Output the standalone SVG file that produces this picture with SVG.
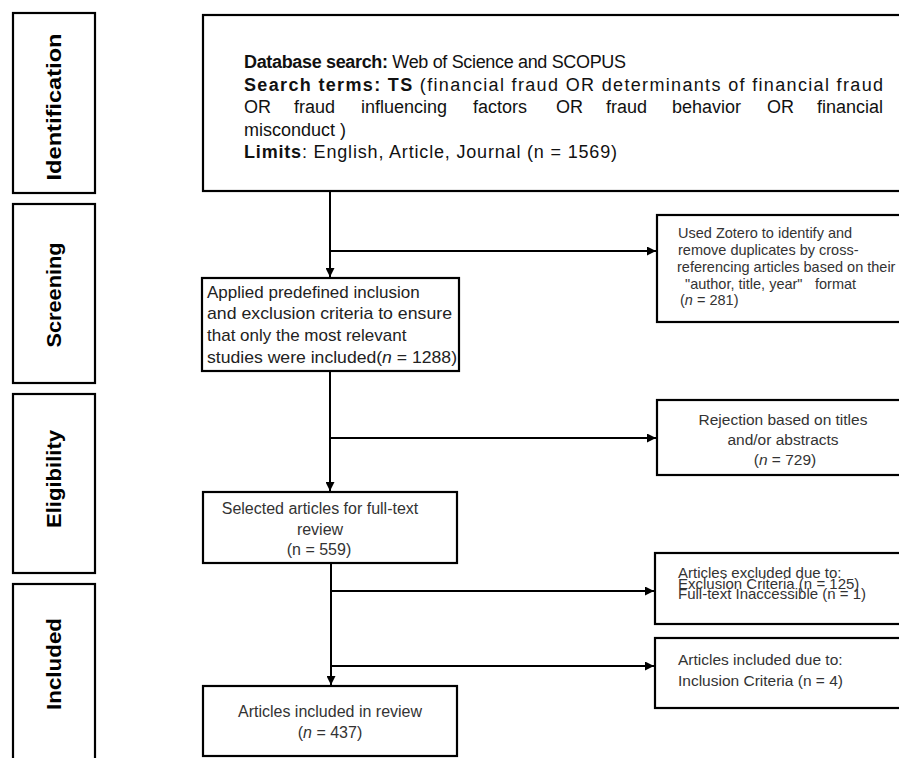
<svg xmlns="http://www.w3.org/2000/svg" width="899" height="758" viewBox="0 0 899 758">
<style>
.box{fill:#fff;stroke:#000;stroke-width:2.2}
.stage{font-family:"Liberation Sans",Arial,sans-serif;font-weight:bold;font-size:20px;fill:#000}
.main{font-family:"Liberation Sans",Arial,sans-serif;font-size:18px;fill:#111}
.t{font-family:"Liberation Sans",Arial,sans-serif;font-size:14px;fill:#333}
.b{font-weight:bold}
.ln{fill:none;stroke:#000;stroke-width:2}
</style>
<defs>
<marker id="ah" markerUnits="userSpaceOnUse" markerWidth="9" markerHeight="9" refX="9" refY="4.5" orient="auto">
<path d="M0,0 L9,4.5 L0,9 z" fill="#000"/>
</marker>
</defs>
<rect width="899" height="758" fill="#fff"/>

<g id="stage-identification">
<rect class="box" x="13" y="13" width="82" height="180"/>
<text class="stage" transform="translate(61,107) rotate(-90)" text-anchor="middle" textLength="147" lengthAdjust="spacingAndGlyphs">Identification</text>
</g>
<g id="stage-screening">
<rect class="box" x="13" y="204" width="82" height="179"/>
<text class="stage" transform="translate(61,295) rotate(-90)" text-anchor="middle" textLength="105" lengthAdjust="spacingAndGlyphs">Screening</text>
</g>
<g id="stage-eligibility">
<rect class="box" x="13" y="394" width="82" height="179"/>
<text class="stage" transform="translate(61,479) rotate(-90)" text-anchor="middle" textLength="98" lengthAdjust="spacingAndGlyphs">Eligibility</text>
</g>
<g id="stage-included">
<rect class="box" x="13" y="584" width="82" height="200"/>
<text class="stage" transform="translate(61,664) rotate(-90)" text-anchor="middle" textLength="92" lengthAdjust="spacingAndGlyphs">Included</text>
</g>

<g id="connectors">
<line class="ln" x1="330" y1="191" x2="330" y2="277" marker-end="url(#ah)"/>
<line class="ln" x1="330" y1="251" x2="656" y2="251" marker-end="url(#ah)"/>
<line class="ln" x1="330" y1="371" x2="330" y2="491" marker-end="url(#ah)"/>
<line class="ln" x1="330" y1="438" x2="656" y2="438" marker-end="url(#ah)"/>
<line class="ln" x1="331" y1="563" x2="331" y2="685" marker-end="url(#ah)"/>
<line class="ln" x1="331" y1="591" x2="654" y2="591" marker-end="url(#ah)"/>
<line class="ln" x1="331" y1="666" x2="654" y2="666" marker-end="url(#ah)"/>
</g>

<g id="node-search">
<rect class="box" x="203" y="15" width="720" height="176"/>
<text class="main" x="244" y="68" textLength="382" lengthAdjust="spacing"><tspan class="b">Database search:</tspan> Web of Science and SCOPUS</text>
<text class="main" x="244" y="91" textLength="639" lengthAdjust="spacing"><tspan class="b">Search terms: TS</tspan> (financial fraud OR determinants of financial fraud</text>
<text class="main" y="113"><tspan x="244">OR</tspan><tspan x="294">fraud</tspan><tspan x="361">influencing</tspan><tspan x="473">factors</tspan><tspan x="556">OR</tspan><tspan x="606">fraud</tspan><tspan x="672">behavior</tspan><tspan x="767">OR</tspan><tspan x="817">financial</tspan></text>
<text class="main" x="244" y="136">misconduct )</text>
<text class="main" x="244" y="158" textLength="373" lengthAdjust="spacing"><tspan class="b">Limits</tspan>: English, Article, Journal (n = 1569)</text>
</g>

<g id="node-zotero">
<rect class="box" x="657" y="215" width="260" height="107"/>
<text class="t" style="font-size:14.5px" x="678" y="238">Used Zotero to identify and</text>
<text class="t" style="font-size:14.5px" x="678" y="255">remove duplicates by cross-</text>
<text class="t" style="font-size:14.5px" x="677" y="272">referencing articles based on their</text>
<text class="t" style="font-size:14.5px" x="685" y="289">"author, title, year"</text>
<text class="t" style="font-size:14.5px" x="815" y="289">format</text>
<text class="t" style="font-size:14.5px" x="680" y="305">(<tspan font-style="italic">n</tspan> = 281)</text>
</g>

<g id="node-screening">
<rect class="box" x="202" y="278" width="257" height="93"/>
<text class="t" style="font-size:17px;fill:#222" x="207" y="298">Applied predefined inclusion</text>
<text class="t" style="font-size:17px;fill:#222" x="207" y="319" textLength="245" lengthAdjust="spacingAndGlyphs">and exclusion criteria to ensure</text>
<text class="t" style="font-size:17px;fill:#222" x="207" y="341">that only the most relevant</text>
<text class="t" style="font-size:17px;fill:#222" x="207" y="363" textLength="250" lengthAdjust="spacingAndGlyphs">studies were included(<tspan font-style="italic">n</tspan> = 1288)</text>
</g>

<g id="node-rejection">
<rect class="box" x="657" y="400" width="260" height="75"/>
<text class="t" style="font-size:15.5px" x="783" y="425" text-anchor="middle">Rejection based on titles</text>
<text class="t" style="font-size:15.5px" x="783" y="445" text-anchor="middle">and/or abstracts</text>
<text class="t" style="font-size:15.5px" x="785" y="465" text-anchor="middle">(<tspan font-style="italic">n</tspan> = 729)</text>
</g>

<g id="node-fulltext">
<rect class="box" x="203" y="492" width="254" height="71"/>
<text class="t" style="font-size:16px" x="320" y="514" text-anchor="middle">Selected articles for full-text</text>
<text class="t" style="font-size:16px" x="320" y="535" text-anchor="middle">review</text>
<text class="t" style="font-size:16px" x="319" y="555" text-anchor="middle">(n = 559)</text>
</g>

<g id="node-excluded">
<rect class="box" x="655" y="553" width="262" height="71"/>
<text class="t" style="font-size:15px" x="678" y="578">Articles excluded due to:</text>
<text class="t" style="font-size:15px" x="678" y="589">Exclusion Criteria (n = 125)</text>
<text class="t" style="font-size:15px" x="678" y="599">Full-text Inaccessible (n = 1)</text>
</g>

<g id="node-included-criteria">
<rect class="box" x="655" y="638" width="262" height="70"/>
<text class="t" style="font-size:15.5px" x="678" y="665">Articles included due to:</text>
<text class="t" style="font-size:15.5px" x="678" y="686">Inclusion Criteria (n = 4)</text>
</g>

<g id="node-final">
<rect class="box" x="203" y="686" width="254" height="70"/>
<text class="t" style="font-size:16px" x="330" y="717" text-anchor="middle">Articles included in review</text>
<text class="t" style="font-size:16px" x="330" y="738" text-anchor="middle">(<tspan font-style="italic">n</tspan> = 437)</text>
</g>
</svg>
